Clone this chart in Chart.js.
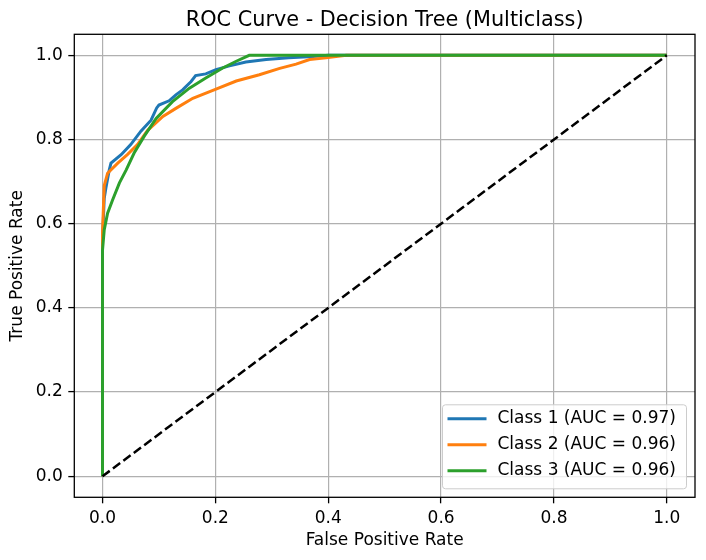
<!DOCTYPE html>
<html>
<head>
<meta charset="utf-8">
<script src="https://cdn.jsdelivr.net/npm/chart.js@4.4.0/dist/chart.umd.min.js"></script>
<style>
  body { margin: 0; background: #fff; }
  #wrap { width: 706px; height: 560px; }
</style>
</head>
<body>
<div id="wrap"><canvas id="roc" width="706" height="560"></canvas></div>
<script>
// Values (FPR / TPR per class)
const class1Fpr = [0, 0, 0.003, 0.006, 0.012, 0.015, 0.033, 0.05, 0.068, 0.086, 0.096, 0.10, 0.118, 0.13, 0.142, 0.157, 0.165, 0.183, 0.201, 0.225, 0.254, 0.29, 0.33, 0.373, 0.40, 1.0];
const class1Tpr = [0, 0.56, 0.66, 0.685, 0.728, 0.744, 0.764, 0.788, 0.82, 0.846, 0.875, 0.882, 0.892, 0.906, 0.918, 0.938, 0.952, 0.956, 0.966, 0.975, 0.984, 0.99, 0.994, 0.997, 1.0, 1.0];

const class2Fpr = [0, 0, 0.003, 0.009, 0.027, 0.044, 0.062, 0.08, 0.095, 0.107, 0.13, 0.16, 0.2, 0.237, 0.278, 0.314, 0.343, 0.367, 0.396, 0.432, 1.0];
const class2Tpr = [0, 0.58, 0.69, 0.72, 0.744, 0.764, 0.788, 0.822, 0.84, 0.855, 0.874, 0.898, 0.919, 0.939, 0.954, 0.969, 0.979, 0.99, 0.994, 1.0, 1.0];

const class3Fpr = [0, 0, 0.003, 0.009, 0.018, 0.03, 0.042, 0.056, 0.074, 0.095, 0.124, 0.154, 0.183, 0.213, 0.237, 0.26, 1.0];
const class3Tpr = [0, 0.537, 0.585, 0.625, 0.657, 0.697, 0.728, 0.768, 0.808, 0.85, 0.89, 0.922, 0.946, 0.97, 0.986, 1.0, 1.0];

const chanceFpr = [0, 1];
const chanceTpr = [0, 1];

const classLabels = ['Class 1 (AUC = 0.97)', 'Class 2 (AUC = 0.96)', 'Class 3 (AUC = 0.96)'];
const tickValues = [0, 0.2, 0.4, 0.6, 0.8, 1.0];
const chartTitle = 'ROC Curve - Decision Tree (Multiclass)';

const FONT = 'DejaVu Sans';

// zip two arrays into {x, y} points
function toPoints(xs, ys) {
    return xs.map((x, i) => ({ x: x, y: ys[i] }));
}

// title centred over the plot area (matplotlib style), not over the canvas
const axesTitle = {
    id: 'axesTitle',
    afterDraw(chart) {
        const ctx = chart.ctx;
        const a = chart.chartArea;
        ctx.save();
        ctx.font = '20.8px "' + FONT + '"';
        ctx.fillStyle = '#000';
        ctx.textAlign = 'center';
        ctx.textBaseline = 'alphabetic';
        ctx.fillText(chartTitle, (a.left + a.right) / 2, 26);
        ctx.restore();
    }
};

// legend box inside the plot, lower right (like matplotlib loc='lower right')
const insideLegend = {
    id: 'insideLegend',
    afterDraw(chart) {
        const ctx = chart.ctx;
        const area = chart.chartArea;
        const w = 244, h = 84;
        const x0 = area.right - 8.5 - w;
        const y0 = area.bottom - 8.5 - h;

        ctx.save();
        ctx.beginPath();
        ctx.roundRect(x0, y0, w, h, 3);
        ctx.fillStyle = 'rgba(255,255,255,0.8)';
        ctx.fill();
        ctx.lineWidth = 1;
        ctx.strokeStyle = '#cccccc';
        ctx.stroke();

        ctx.font = '17px "' + FONT + '"';
        ctx.textBaseline = 'middle';
        ctx.textAlign = 'left';
        for (let i = 0; i < classLabels.length; i++) {
            const ds = chart.data.datasets[i];
            const y = y0 + 14 + i * 26;
            ctx.beginPath();
            ctx.moveTo(x0 + 5, y);
            ctx.lineTo(x0 + 44, y);
            ctx.lineWidth = ds.borderWidth;
            ctx.strokeStyle = ds.borderColor;
            ctx.stroke();
            ctx.fillStyle = '#000';
            ctx.fillText(ds.label, x0 + 55, y);
        }
        ctx.restore();
    }
};

// full black frame round the axes
const frame = {
    id: 'frame',
    afterDatasetsDraw(chart) {
        const ctx = chart.ctx;
        const a = chart.chartArea;
        ctx.save();
        ctx.lineWidth = 1.3;
        ctx.strokeStyle = '#000';
        ctx.strokeRect(a.left, a.top, a.right - a.left, a.bottom - a.top);
        ctx.restore();
    }
};

const axisCommon = {
    type: 'linear',
    min: -0.05,
    max: 1.05,
    afterBuildTicks: (scale) => {
        scale.ticks = tickValues.map(v => ({ value: v }));
    },
    ticks: {
        color: '#000',
        padding: 5.5,
        font: { family: FONT, size: 17 },
        callback: (v) => Number(v).toFixed(1)
    },
    grid: {
        color: '#b0b0b0',
        lineWidth: 1.2,
        tickColor: '#000',
        tickWidth: 1.3,
        tickLength: 6
    },
    border: { display: false }
};

new Chart(document.getElementById('roc'), {
    type: 'scatter',
    data: {
        datasets: [
            {
                label: classLabels[0],
                data: toPoints(class1Fpr, class1Tpr),
                borderColor: '#1f77b4',
                backgroundColor: '#1f77b4',
                borderWidth: 3,
                showLine: true,
                pointRadius: 0,
                order: 3
            },
            {
                label: classLabels[1],
                data: toPoints(class2Fpr, class2Tpr),
                borderColor: '#ff7f0e',
                backgroundColor: '#ff7f0e',
                borderWidth: 3,
                showLine: true,
                pointRadius: 0,
                order: 2
            },
            {
                label: classLabels[2],
                data: toPoints(class3Fpr, class3Tpr),
                borderColor: '#2ca02c',
                backgroundColor: '#2ca02c',
                borderWidth: 3,
                showLine: true,
                pointRadius: 0,
                order: 1
            },
            {
                label: 'chance',
                data: toPoints(chanceFpr, chanceTpr),
                borderColor: '#000',
                backgroundColor: '#000',
                borderWidth: 2.5,
                borderDash: [9, 4],
                showLine: true,
                pointRadius: 0,
                order: 0
            }
        ]
    },
    options: {
        responsive: false,
        animation: false,
        layout: { padding: { left: 0, right: 11, top: 34.3, bottom: 0 } },
        scales: {
            x: Object.assign({}, axisCommon, {
                position: 'bottom',
                afterFit: (scale) => { scale.height = 62.7; },
                title: {
                    display: true,
                    text: 'False Positive Rate',
                    color: '#000',
                    font: { family: FONT, size: 17 },
                    padding: { top: 0, bottom: 9.5 }
                }
            }),
            y: Object.assign({}, axisCommon, {
                position: 'left',
                afterFit: (scale) => { scale.width = 74.3; },
                title: {
                    display: true,
                    text: 'True Positive Rate',
                    color: '#000',
                    font: { family: FONT, size: 17 },
                    padding: { top: 7.1, bottom: 0 }
                }
            })
        },
        plugins: {
            legend: { display: false },
            tooltip: { enabled: false },
            title: { display: false }
        }
    },
    plugins: [frame, insideLegend, axesTitle]
});
</script>
</body>
</html>
